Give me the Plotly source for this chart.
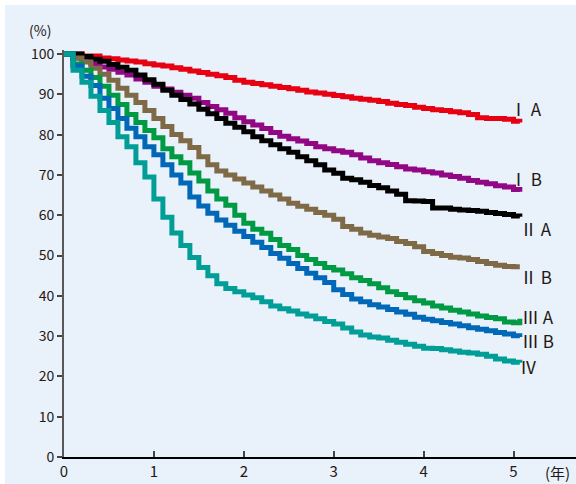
import plotly.graph_objects as go

# time points (years)
years = [0, 0.1, 0.2, 0.3, 0.4, 0.5, 0.6, 0.7, 0.8, 0.9,
         1.0, 1.1, 1.2, 1.3, 1.4, 1.5, 1.6, 1.7, 1.8, 1.9,
         2.0, 2.1, 2.2, 2.3, 2.4, 2.5, 2.6, 2.7, 2.8, 2.9,
         3.0, 3.1, 3.2, 3.3, 3.4, 3.5, 3.6, 3.7, 3.8, 3.9,
         4.0, 4.1, 4.2, 4.3, 4.4, 4.5, 4.6, 4.7, 4.8, 4.9,
         5.0, 5.07]

stage_IA = [100, 100, 99.5, 99.5, 99, 98.8, 98.5, 98.3, 98, 97.6,
            97.3, 97, 96.6, 96.2, 95.8, 95.4, 95, 94.6, 94.2, 93.5,
            93, 92.7, 92.4, 92, 91.7, 91.4, 91, 90.6, 90.3, 90,
            89.7, 89.4, 89, 88.8, 88.5, 88.2, 87.8, 87.5, 87.2, 86.8,
            86.5, 86.2, 86, 85.7, 85.4, 85, 84.2, 84, 84, 83.8,
            83.3, 83]
stage_IB = [100, 99, 98.5, 97.5, 96.8, 96.2, 95.5, 94.8, 93.8, 93,
            92, 91.3, 90.5, 89.8, 89, 88, 87, 86.2, 85.3, 84.2,
            83.2, 82.4, 81.5, 80.5, 79.6, 79, 78.4, 77.8, 77, 76.5,
            76, 75.6, 75, 74.2, 73.5, 73, 72.6, 72, 71.5, 71.2,
            70.8, 70.5, 70, 69.6, 69.2, 68.6, 68.2, 67.8, 67.3, 67,
            66.4, 65.8]
stage_IIA = [100, 100, 99.4, 98.7, 98.2, 97.4, 96.7, 96, 94.8, 93.6,
             92.5, 91, 89.8, 88.7, 87.6, 86.3, 85.2, 84, 82.8, 81.8,
             80.7, 79.5, 78.5, 77.5, 76.5, 75.6, 74.5, 73.5, 72.5, 71.2,
             70.4, 69.2, 68.8, 68.2, 67.4, 66.8, 66, 65.2, 63.6, 63.5,
             63.4, 61.8, 61.8, 61.5, 61.3, 61.2, 61, 60.7, 60.4, 60.2,
             59.8, 59.6]
stage_IIB = [100, 99, 98, 96.5, 95, 93.5, 91.5, 89.8, 88, 86,
             84, 82, 80, 78.5, 76.8, 74.5, 72.5, 71, 70, 69,
             68, 67, 66, 65, 64, 63, 62.2, 61.5, 60.7, 60,
             59, 57.2, 56.5, 55.6, 55, 54.6, 54.2, 53.5, 53, 52.2,
             51, 50.5, 50, 49.6, 49.4, 49, 48.5, 48, 47.6, 47.3,
             47.2, 47.2]
stage_IIIA = [100, 97.5, 96, 94.2, 92, 89.8, 87.5, 85, 83, 81,
              79.2, 76.5, 74.5, 73, 70.5, 68.5, 66, 64, 62.5, 60,
              58, 56.5, 55.5, 54, 52.5, 51.5, 50, 49, 48, 47,
              46.4, 45.5, 44.5, 43.8, 43, 42, 41, 40.3, 39.5, 38.8,
              38.2, 37.5, 37, 36.4, 36, 35.5, 35, 34.6, 34.3, 33.5,
              33.3, 34.3]
stage_IIIB = [100, 97, 94.5, 92.2, 89, 86.5, 84, 81.6, 79.5, 77,
              75, 72.5, 70, 68, 64.5, 62.3, 60.5, 58.8, 57.5, 56,
              54.7, 53.3, 52, 50.5, 49.3, 48, 46.8, 45.6, 44.5, 43.3,
              41.5, 40.3, 39.2, 38.5, 37.8, 37.2, 36.6, 36, 35.4, 34.7,
              34.2, 33.8, 33.4, 33, 32.6, 32.1, 31.7, 31.3, 30.9, 30.5,
              30.1, 29.8]
stage_IV = [100, 96, 93, 89.5, 86, 83, 79.5, 77, 73, 69.5,
            64, 59.5, 55.6, 52.5, 49.5, 47, 45, 43, 41.8, 41,
            40.2, 39.5, 38.5, 37.5, 36.8, 36.2, 35.5, 35, 34.3, 33.6,
            33, 32, 31, 30.3, 29.8, 29.5, 29, 28.5, 28, 27.5,
            27, 26.9, 26.6, 26.3, 26, 25.8, 25.5, 25, 24.3, 23.8,
            23.5, 23.4]

series = [
    ("Ⅰ A", stage_IA, "#E60012"),
    ("Ⅰ B", stage_IB, "#920783"),
    ("Ⅱ A", stage_IIA, "#000000"),
    ("Ⅱ B", stage_IIB, "#7F6A48"),
    ("Ⅲ A", stage_IIIA, "#009944"),
    ("Ⅲ B", stage_IIIB, "#0068B7"),
    ("Ⅳ", stage_IV, "#009E96"),
]

# label positions (data coords)
label_x = [4.95, 4.95, 5.06, 5.06, 5.08, 5.08, 5.06]
label_y = [86.6, 69.2, 56.8, 44.7, 34.9, 28.8, 22.5]

x_ticks = [0, 1, 2, 3, 4, 5]
y_ticks = [0, 10, 20, 30, 40, 50, 60, 70, 80, 90, 100]

BG = "#E9F1FA"
TXT = "#231815"
FONT = "Noto Sans CJK JP"

fig = go.Figure()
for name, vals, col in series:
    fig.add_trace(go.Scatter(x=years, y=vals, mode="lines", name=name,
                             line=dict(color=col, width=5, shape="hv"),
                             showlegend=False))

for (name, _, _), lx, ly in zip(series, label_x, label_y):
    fig.add_annotation(x=lx, y=ly, text=name, showarrow=False,
                       xanchor="left", yanchor="middle", borderpad=0,
                       font=dict(size=17, color=TXT, family=FONT))

fig.add_annotation(xref="paper", yref="paper", x=-0.047, y=1.05,
                   text="(%)", showarrow=False, xanchor="center", yanchor="middle",
                   font=dict(size=14, color=TXT, family=FONT))
fig.add_annotation(xref="paper", yref="paper", x=0.963, y=-0.037,
                   text="(年)", showarrow=False, xanchor="center", yanchor="middle",
                   font=dict(size=15, color=TXT, family=FONT))

fig.update_layout(
    width=571, height=479,
    margin=dict(l=59, r=0, t=45, b=27),
    paper_bgcolor=BG, plot_bgcolor=BG,
    font=dict(family=FONT, color=TXT, size=14),
    xaxis=dict(range=[0, 5.695], tickvals=x_ticks, ticks="inside", ticklen=6,
               tickcolor="#444", tickwidth=1.5,
               showline=True, linecolor="#000", linewidth=1.5,
               showgrid=False, zeroline=False, tickfont=dict(size=15)),
    yaxis=dict(range=[0, 101], tickvals=y_ticks, ticks="outside", ticklen=5,
               tickcolor="#444", tickwidth=1.5,
               showline=True, linecolor="#595757", linewidth=2,
               showgrid=False, zeroline=False, tickfont=dict(size=14)),
)

fig.write_html("out.html",
               post_script="document.body.style.margin='5px 0 0 5px';")
